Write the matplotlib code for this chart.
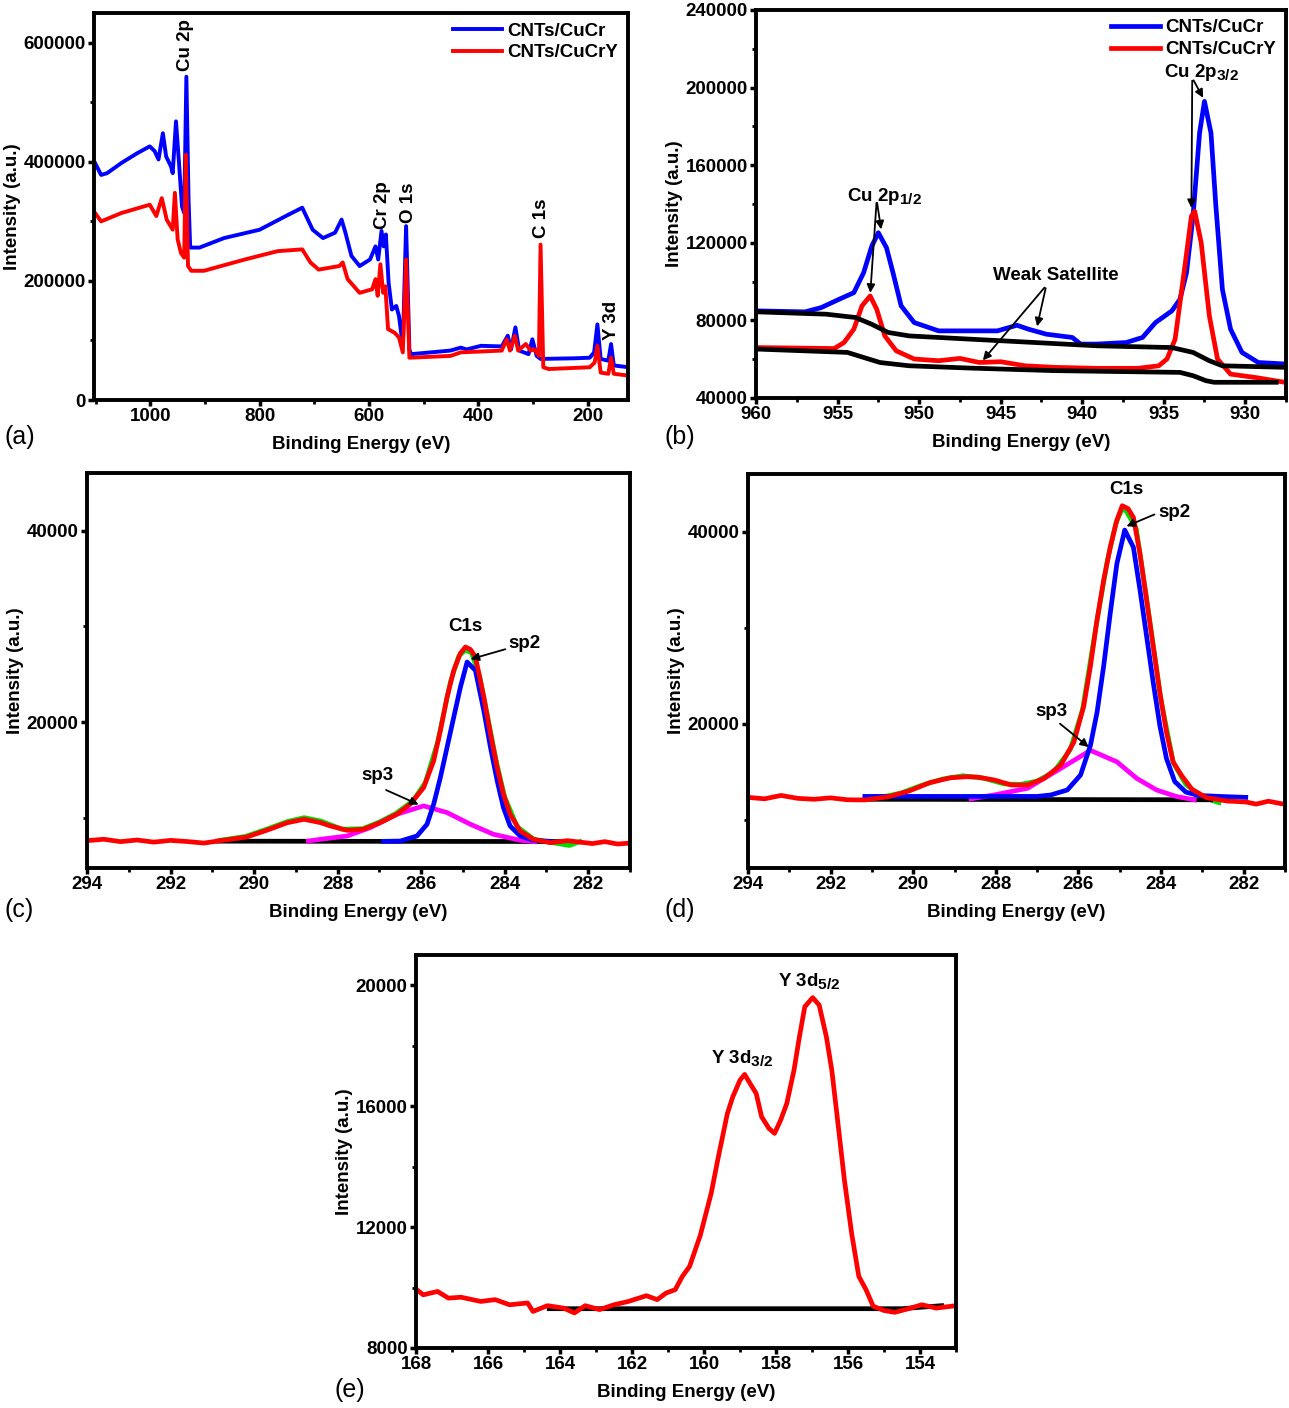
import matplotlib
matplotlib.use("Agg")
import matplotlib.pyplot as plt
from matplotlib.ticker import MultipleLocator
try:
    import matplotlib._mathtext as _mt
    _mt.SHRINK_FACTOR = 0.82
except Exception:
    pass

plt.rcParams['font.family'] = ['Liberation Sans', 'DejaVu Sans']
plt.rcParams['font.weight'] = 'bold'
plt.rcParams['mathtext.fontset'] = 'custom'
plt.rcParams['mathtext.rm'] = 'Liberation Sans:bold'
plt.rcParams['mathtext.bf'] = 'Liberation Sans:bold'
plt.rcParams['mathtext.it'] = 'Liberation Sans:bold'
plt.rcParams['mathtext.default'] = 'bf'

# ---------------- (a) survey spectra ----------------
a_cucr_x = [1101, 1090, 1079, 1053, 1023, 1001, 992, 985, 977, 971, 962, 959, 953, 947, 942, 938, 934, 930, 927,
            910, 865, 800, 752, 722, 703, 684, 662, 650, 643, 632, 617, 598, 588, 583, 577, 573, 569, 564, 558,
            550, 545, 538, 532, 526, 523, 451, 432, 421, 395, 357, 346, 340, 332, 325, 308, 301, 293, 286, 226,
            196, 188, 182, 176, 162, 157, 152, 125]
a_cucr_y = [398e3, 378e3, 381e3, 398e3, 415e3, 426e3, 418e3, 404e3, 448e3, 409e3, 392e3, 381e3, 468e3, 392e3,
            325e3, 314e3, 543e3, 337e3, 256e3, 256e3, 272e3, 286e3, 309e3, 323e3, 286e3, 272e3, 281e3, 303e3,
            281e3, 242e3, 225e3, 236e3, 258e3, 236e3, 284e3, 258e3, 278e3, 197e3, 152e3, 158e3, 141e3, 91e3,
            292e3, 85e3, 77e3, 83e3, 88e3, 85e3, 91e3, 90e3, 108e3, 85e3, 122e3, 83e3, 77e3, 102e3, 74e3, 69e3,
            70e3, 71e3, 80e3, 127e3, 69e3, 66e3, 94e3, 58e3, 55e3]
a_cucry_x = [1101, 1090, 1053, 1001, 989, 979, 970, 959, 955, 950, 944, 938, 935, 931, 925, 902, 827, 767, 722,
             707, 692, 654, 648, 639, 617, 594, 588, 584, 579, 574, 570, 565, 553, 545, 538, 532, 526, 451, 432,
             357, 348, 342, 333, 327, 313, 304, 297, 289, 286, 281, 271, 196, 187, 182, 176, 162, 157, 152, 125]
a_cucry_y = [314e3, 300e3, 314e3, 328e3, 309e3, 339e3, 303e3, 286e3, 348e3, 270e3, 247e3, 239e3, 412e3, 225e3,
             217e3, 217e3, 236e3, 250e3, 253e3, 231e3, 219e3, 225e3, 231e3, 203e3, 180e3, 186e3, 203e3, 175e3,
             228e3, 180e3, 191e3, 119e3, 113e3, 105e3, 80e3, 236e3, 71e3, 74e3, 80e3, 83e3, 102e3, 83e3, 108e3,
             83e3, 94e3, 83e3, 85e3, 74e3, 261e3, 55e3, 52e3, 55e3, 63e3, 91e3, 46e3, 44e3, 71e3, 44e3, 41e3]
a_peak_labels = ["Cu 2p", "Cr 2p", "O 1s", "C 1s", "Y 3d"]
a_peak_x = [936, 576, 527, 285, 157]
a_peak_y = [552e3, 288e3, 298e3, 272e3, 100e3]

# ---------------- (b) Cu 2p ----------------
b_cucr_x = [959.9, 957.0, 956.0, 954.9, 954.0, 953.4, 952.9, 952.5, 952.0, 951.6, 951.1, 950.3, 948.8, 946.8,
            945.2, 944.7, 944.0, 943.3, 942.2, 940.6, 940.1, 939.1, 937.3, 936.3, 935.5, 934.5, 934.0, 933.6,
            933.2, 932.8, 932.5, 932.1, 931.8, 931.4, 930.9, 930.2, 929.2, 927.5]
b_cucr_y = [84.9e3, 84.4e3, 86.6e3, 90.9e3, 94.3e3, 104.6e3, 118.3e3, 125.2e3, 117.5e3, 104.6e3, 87.5e3,
            78.9e3, 74.6e3, 74.6e3, 74.6e3, 75.8e3, 77.5e3, 75.5e3, 72.9e3, 71.2e3, 67.8e3, 67.8e3, 68.6e3,
            71.2e3, 78.9e3, 84.9e3, 90.9e3, 104.6e3, 133.7e3, 176.6e3, 192.9e3, 176.6e3, 138.9e3, 96.0e3,
            75.5e3, 63.5e3, 58.3e3, 57.5e3]
b_cucry_x = [959.9, 955.2, 954.6, 954.0, 953.5, 953.0, 952.6, 952.1, 951.4, 950.3, 948.8, 947.5, 946.3, 945.0,
             943.5, 941.7, 939.1, 936.6, 935.3, 934.8, 934.3, 933.7, 933.3, 933.1, 932.7, 932.2, 931.7, 930.9,
             929.4, 927.5]
b_cucry_y = [66.0e3, 65.5e3, 68.6e3, 75.5e3, 87.5e3, 92.6e3, 85.8e3, 72.0e3, 64.3e3, 60.1e3, 59.2e3, 60.4e3,
             58.3e3, 58.7e3, 56.6e3, 55.8e3, 55.3e3, 55.3e3, 56.6e3, 60.1e3, 70.3e3, 108.0e3, 133.7e3, 136.3e3,
             120.0e3, 82.3e3, 60.1e3, 52.3e3, 50.6e3, 48.0e3]
b_bg1_x = [959.9, 955.7, 953.9, 952.9, 951.9, 950.6, 946.8, 942.9, 939.1, 934.5, 933.2, 932.2, 931.4, 927.5]
b_bg1_y = [84.4e3, 83.2e3, 81.5e3, 78.0e3, 73.8e3, 72.0e3, 70.3e3, 68.6e3, 66.9e3, 66.0e3, 63.5e3, 59.2e3,
           56.6e3, 55.8e3]
b_bg2_x = [959.9, 954.4, 953.4, 952.4, 950.6, 946.8, 941.7, 936.6, 934.0, 933.2, 932.4, 931.9, 928.1]
b_bg2_y = [65.2e3, 63.5e3, 60.9e3, 58.3e3, 56.6e3, 55.4e3, 54.1e3, 53.5e3, 53.2e3, 51.5e3, 48.9e3, 48.1e3, 48.1e3]

# ---------------- (c) C1s of CNTs/CuCr ----------------
c_env_x = [294.0, 293.6, 293.2, 292.8, 292.4, 292.0, 291.6, 291.2, 290.87, 290.18, 289.7, 289.2, 288.8, 288.41,
           288.17, 287.77, 287.38, 286.98, 286.58, 286.26, 285.94, 285.70, 285.54, 285.38, 285.22, 285.06, 284.94,
           284.82, 284.70, 284.5, 284.34, 284.18, 284.03, 283.87, 283.63, 283.31, 282.91, 282.5, 282.2, 281.9,
           281.6, 281.3, 281.06]
c_env_y = [7650, 7800, 7550, 7720, 7500, 7680, 7560, 7400, 7610, 8030, 8730, 9530, 9880, 9530, 9180, 8730, 8840,
           9530, 10410, 11460, 13190, 15990, 19130, 22620, 25410, 27200, 27850, 27600, 26810, 22620, 18790, 15290,
           12500, 10410, 8660, 7790, 7440, 7650, 7500, 7350, 7550, 7300, 7380]
c_raw_x = [290.8, 290.2, 289.7, 289.2, 288.8, 288.4, 287.9, 287.4, 287.0, 286.6, 286.2, 285.9, 285.6, 285.3,
           285.1, 284.95, 284.8, 284.6, 284.4, 284.2, 284.0, 283.7, 283.3, 282.8, 282.45, 282.2]
c_raw_y = [7700, 8100, 8850, 9650, 10050, 9700, 8850, 8900, 9600, 10500, 11800, 13700, 18000, 24200, 26900, 27500,
           27300, 24800, 20400, 15900, 12200, 9100, 7800, 7400, 7150, 7550]
c_sp2_x = [286.9, 286.5, 286.1, 285.86, 285.70, 285.54, 285.38, 285.22, 285.06, 284.9, 284.7, 284.5, 284.34,
           284.18, 284.03, 283.87, 283.63, 283.31, 282.9]
c_sp2_y = [7580, 7610, 8140, 9360, 11460, 14240, 17380, 20520, 23660, 26280, 25410, 21220, 17380, 13900, 11100,
           9180, 8140, 7690, 7580]
c_sp3_x = [288.7, 288.41, 287.77, 287.22, 286.58, 285.94, 285.38, 284.82, 284.27, 283.63, 283.28]
c_sp3_y = [7610, 7790, 8140, 9010, 10410, 11280, 10580, 9360, 8320, 7690, 7540]
c_base_x = [290.87, 282.7]
c_base_y = [7600, 7560]

# ---------------- (d) C1s of CNTs/CuCrY ----------------
d_env_x = [294.0, 293.6, 293.2, 292.8, 292.4, 292.0, 291.6, 291.17, 290.6, 290.1, 289.6, 289.1, 288.7, 288.43,
           288.03, 287.63, 287.23, 286.83, 286.43, 286.11, 285.87, 285.71, 285.55, 285.39, 285.23, 285.07, 284.94,
           284.8, 284.67, 284.51, 284.35, 284.19, 284.03, 283.87, 283.71, 283.5, 283.25, 282.9, 282.4, 281.95,
           281.7, 281.4, 281.1]
d_env_y = [12350, 12200, 12550, 12250, 12150, 12300, 12100, 12080, 12420, 13010, 13880, 14390, 14500, 14450,
           14150, 13640, 13640, 14330, 15700, 18110, 21890, 26010, 30830, 34950, 38380, 41200, 42700, 42400,
           41480, 37700, 32890, 28080, 23270, 19140, 16050, 14600, 13180, 12320, 11970, 11870, 11650, 11950, 11700]
d_raw_x = [290.9, 290.3, 289.8, 289.3, 288.8, 288.3, 287.8, 287.4, 287.0, 286.6, 286.2, 285.9, 285.6, 285.3,
           285.1, 284.95, 284.85, 284.6, 284.3, 284.0, 283.7, 283.4, 283.0, 282.6]
d_raw_y = [12250, 12800, 13600, 14250, 14600, 14350, 13750, 13700, 14050, 15000, 17300, 21500, 29500, 37000,
           40800, 42300, 42200, 40300, 31500, 22400, 15900, 13700, 12350, 11800]
d_sp2_x = [291.17, 287.0, 286.67, 286.27, 285.95, 285.71, 285.55, 285.39, 285.23, 285.07, 284.88, 284.67, 284.51,
           284.35, 284.19, 284.03, 283.87, 283.67, 283.4, 283.1, 282.6, 281.95]
d_sp2_y = [12450, 12450, 12600, 13120, 14670, 17760, 21200, 26010, 31520, 36670, 40170, 38380, 33920, 29110,
           24300, 19830, 16400, 14000, 12900, 12550, 12450, 12350]
d_sp3_x = [288.6, 288.03, 287.23, 286.43, 285.71, 285.07, 284.59, 284.11, 283.63, 283.2]
d_sp3_y = [12200, 12610, 13300, 15360, 17240, 16050, 14330, 13120, 12440, 12100]
d_base_x = [291.17, 282.8]
d_base_y = [12150, 12100]

# ---------------- (e) Y 3d ----------------
e_y3d_x = [168.0, 167.8, 167.4, 167.1, 166.75, 166.2, 165.8, 165.4, 164.9, 164.75, 164.35, 163.9, 163.6, 163.3,
           162.9, 162.5, 162.1, 161.6, 161.3, 161.05, 160.8, 160.6, 160.4, 160.1, 159.8, 159.6, 159.35, 159.2,
           159.0, 158.87, 158.72, 158.55, 158.4, 158.2, 158.04, 157.87, 157.7, 157.5, 157.35, 157.2, 156.98,
           156.8, 156.6, 156.45, 156.3, 156.1, 155.9, 155.7, 155.5, 155.3, 155.0, 154.7, 154.35, 153.95, 153.55,
           153.0]
e_y3d_y = [9950, 9760, 9870, 9650, 9680, 9540, 9600, 9430, 9490, 9210, 9400, 9320, 9160, 9400, 9270, 9430, 9540,
           9730, 9600, 9820, 9930, 10370, 10700, 11740, 13120, 14330, 15760, 16310, 16860, 17050, 16750, 16420,
           15650, 15270, 15100, 15540, 16090, 17190, 18290, 19290, 19590, 19340, 18290, 17190, 15650, 13560,
           11800, 10370, 9930, 9380, 9240, 9180, 9290, 9430, 9320, 9400]
e_base_x = [164.3, 154.5, 153.4]
e_base_y = [9300, 9300, 9400]

# =====================================================
W, H = 1289, 1408
fig = plt.figure(figsize=(W / 100, H / 100), dpi=100)


def make_ax(l, r, t, b):
    return fig.add_axes([l / W, 1 - b / H, (r - l) / W, (b - t) / H])


FS = 13.5


def style(ax, xlim, ylim, xmaj, xmin, ymaj, ymin):
    ax.set_xlim(*xlim)
    ax.set_ylim(*ylim)
    ax.xaxis.set_major_locator(MultipleLocator(xmaj))
    ax.xaxis.set_minor_locator(MultipleLocator(xmin))
    ax.yaxis.set_major_locator(MultipleLocator(ymaj))
    ax.yaxis.set_minor_locator(MultipleLocator(ymin))
    for s in ax.spines.values():
        s.set_linewidth(2.8)
    ax.tick_params(which='major', direction='out', length=4, width=2.5, labelsize=FS, pad=2)
    ax.tick_params(which='minor', direction='out', length=3, width=2.0)
    ax.tick_params(top=False, right=False)
    for lab in ax.get_xticklabels() + ax.get_yticklabels():
        lab.set_fontweight('bold')
    ax.set_xlabel('Binding Energy (eV)', fontsize=FS, fontweight='bold', labelpad=8)
    ax.set_ylabel('Intensity (a.u.)', fontsize=FS, fontweight='bold', labelpad=2)


BLUE = '#0000ff'
RED = '#ff0000'
MAG = '#ff00ff'
GRN = '#00dd00'
LW = 3.4

# (a)
axa = make_ax(94, 628, 13, 400)
axa.plot(a_cucr_x, a_cucr_y, color=BLUE, lw=2.8, label='CNTs/CuCr')
axa.plot(a_cucry_x, a_cucry_y, color=RED, lw=2.8, label='CNTs/CuCrY')
style(axa, (1103, 126), (0, 650000), 200, 100, 200000, 100000)
for lab, x, y in zip(a_peak_labels, a_peak_x, a_peak_y):
    axa.text(x, y, lab, rotation=90, ha='center', va='bottom', fontsize=FS, fontweight='bold')
axa.legend(loc='upper right', frameon=False, handlelength=2.6, handletextpad=0.3,
           borderaxespad=0.1, labelspacing=0.25, prop={'weight': 'bold', 'size': FS})

# (b)
axb = make_ax(756, 1286, 10, 398)
axb.plot(b_cucr_x, b_cucr_y, color=BLUE, lw=LW, label='CNTs/CuCr')
axb.plot(b_cucry_x, b_cucry_y, color=RED, lw=LW, label='CNTs/CuCrY')
axb.plot(b_bg1_x, b_bg1_y, color='black', lw=LW)
axb.plot(b_bg2_x, b_bg2_y, color='black', lw=LW)
style(axb, (960, 927.5), (40000, 240000), 5, 2.5, 40000, 20000)
axb.legend(loc='upper right', frameon=False, handlelength=2.6, handletextpad=0.3,
           borderaxespad=0.1, labelspacing=0.25, prop={'weight': 'bold', 'size': FS})
ap = dict(arrowstyle='-|>', color='black', lw=1.3, mutation_scale=12)
axb.text(935.0, 208000, 'Cu 2p$_{3/2}$', fontsize=FS, ha='left', va='center')
axb.annotate('', xy=(932.5, 193500), xytext=(933.25, 205000), arrowprops=ap)
axb.annotate('', xy=(933.3, 136500), xytext=(933.25, 205000), arrowprops=ap)
axb.text(954.4, 144000, 'Cu 2p$_{1/2}$', fontsize=FS, ha='left', va='center')
axb.annotate('', xy=(952.3, 125500), xytext=(952.6, 142000), arrowprops=ap)
axb.annotate('', xy=(953.0, 92800), xytext=(952.6, 142000), arrowprops=ap)
axb.text(941.6, 103000, 'Weak Satellite', fontsize=FS, ha='center', va='center')
axb.annotate('', xy=(942.8, 75500), xytext=(942.2, 98000), arrowprops=ap)
axb.annotate('', xy=(946.2, 58300), xytext=(942.2, 98000), arrowprops=ap)

# (c)
axc = make_ax(87, 630, 473, 868)
axc.plot(c_raw_x, c_raw_y, color=GRN, lw=LW)
axc.plot(c_base_x, c_base_y, color='black', lw=LW)
axc.plot(c_sp3_x, c_sp3_y, color=MAG, lw=LW)
axc.plot(c_sp2_x, c_sp2_y, color=BLUE, lw=LW)
axc.plot(c_env_x, c_env_y, color=RED, lw=LW)
style(axc, (294, 281), (4800, 46000), 2, 1, 20000, 10000)
axc.text(284.95, 29100, 'C1s', fontsize=FS, ha='center', va='bottom')
axc.text(283.9, 28250, 'sp2', fontsize=FS, ha='left', va='center')
axc.annotate('', xy=(284.88, 26500), xytext=(283.92, 27700), arrowprops=ap)
axc.text(287.05, 14400, 'sp3', fontsize=FS, ha='center', va='center')
axc.annotate('', xy=(286.0, 11300), xytext=(286.9, 13050), arrowprops=ap)

# (d)
axd = make_ax(748, 1285, 474, 868)
axd.plot(d_raw_x, d_raw_y, color=GRN, lw=LW)
axd.plot(d_base_x, d_base_y, color='black', lw=LW)
axd.plot(d_sp3_x, d_sp3_y, color=MAG, lw=LW)
axd.plot(d_sp2_x, d_sp2_y, color=BLUE, lw=LW)
axd.plot(d_env_x, d_env_y, color=RED, lw=LW)
style(axd, (294, 281), (5000, 46000), 2, 1, 20000, 10000)
axd.text(284.83, 43500, 'C1s', fontsize=FS, ha='center', va='bottom')
axd.text(284.07, 42000, 'sp2', fontsize=FS, ha='left', va='center')
axd.annotate('', xy=(284.9, 40450), xytext=(284.1, 41900), arrowprops=ap)
axd.text(286.66, 21300, 'sp3', fontsize=FS, ha='center', va='center')
axd.annotate('', xy=(285.7, 17400), xytext=(286.5, 20200), arrowprops=ap)

# (e)
axe = make_ax(416, 956, 955, 1348)
axe.plot(e_base_x, e_base_y, color='black', lw=LW)
axe.plot(e_y3d_x, e_y3d_y, color=RED, lw=LW)
style(axe, (168, 153), (8000, 21000), 2, 1, 4000, 2000)
axe.text(157.95, 20150, 'Y 3d$_{5/2}$', fontsize=FS, ha='left', va='center')
axe.text(159.8, 17600, 'Y 3d$_{3/2}$', fontsize=FS, ha='left', va='center')

# panel letters
for lbl, x, y in [('(a)', 4, 437), ('(b)', 664, 437), ('(c)', 4, 910), ('(d)', 664, 910), ('(e)', 334, 1390)]:
    fig.text(x / W, 1 - y / H, lbl, fontsize=18, fontweight='normal', ha='left', va='center')

fig.savefig('out.png', dpi=100)
